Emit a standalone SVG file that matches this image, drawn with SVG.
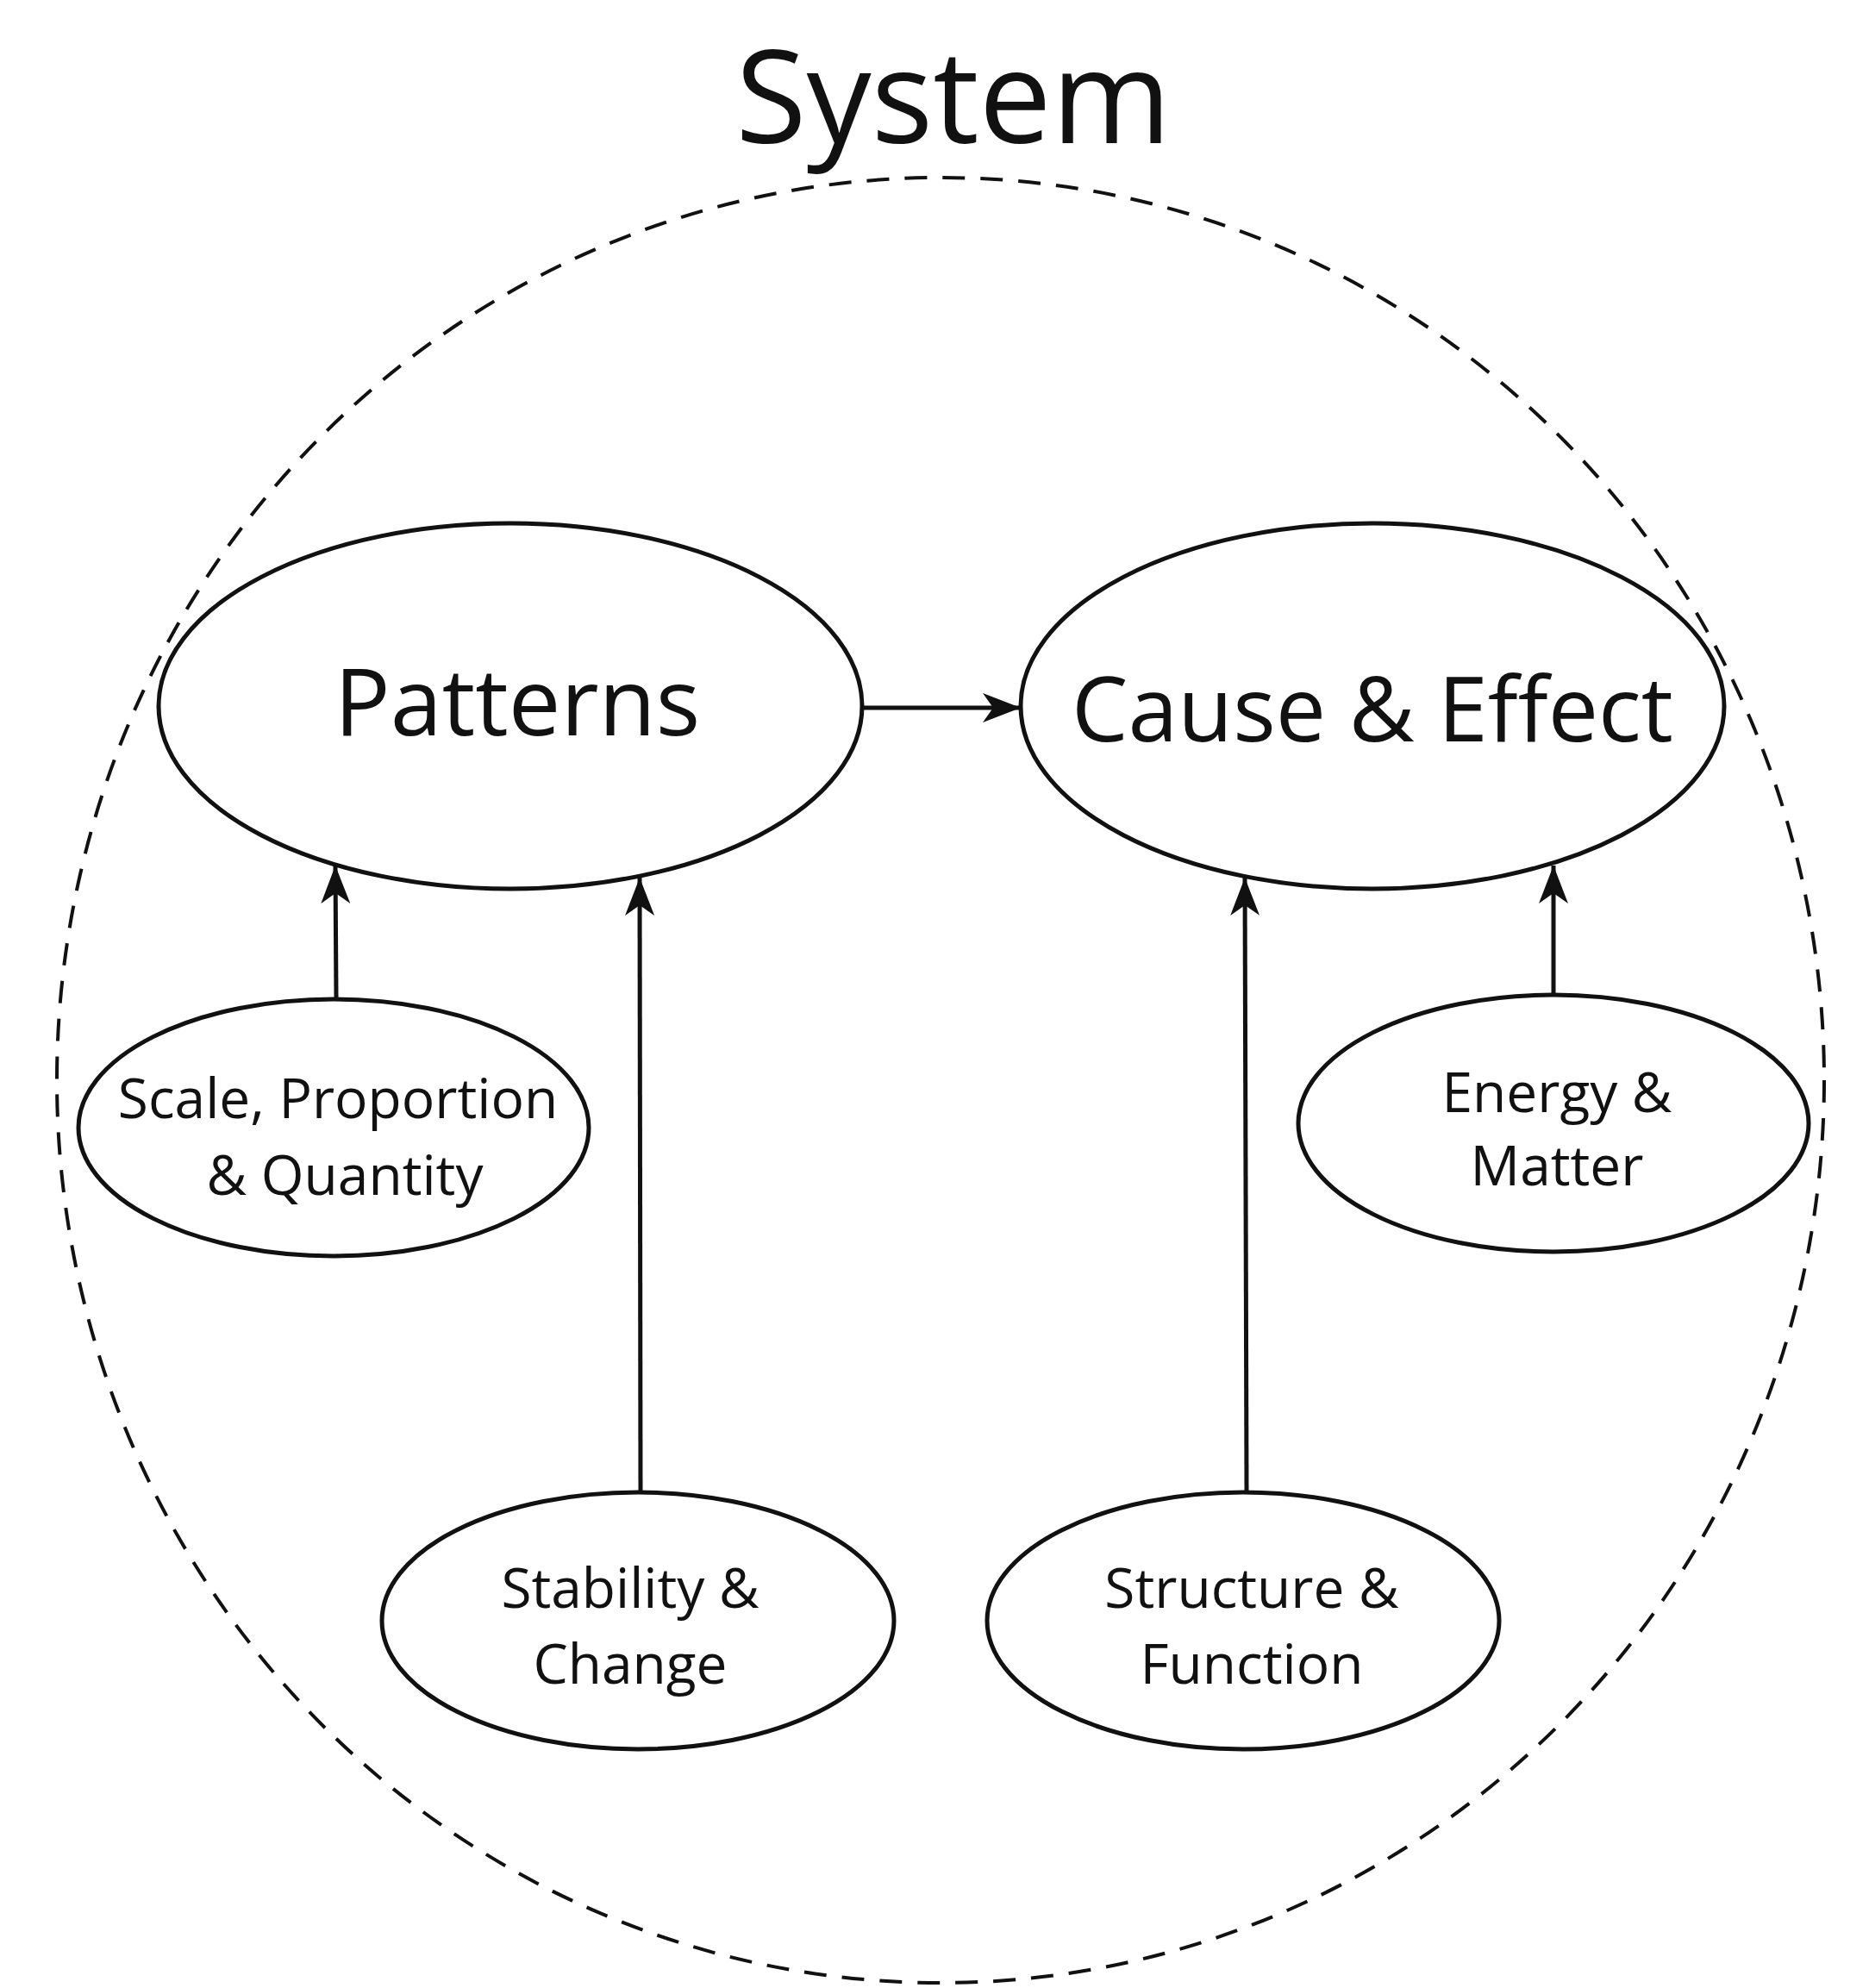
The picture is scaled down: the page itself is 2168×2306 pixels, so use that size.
<svg xmlns="http://www.w3.org/2000/svg" width="2168" height="2306" viewBox="0 0 2168 2306">
<style>
.n{fill:none;stroke:#111;stroke-width:5}
.t{font-family:"Open Sans","Noto Sans",sans-serif;fill:#111;text-anchor:middle;font-weight:500}
.c{stroke:#111;stroke-width:5;fill:none;marker-end:url(#a)}
</style>
<defs><marker id="a" viewBox="0 0 44 34" refX="44" refY="17" markerWidth="44" markerHeight="34" orient="auto" markerUnits="userSpaceOnUse"><path d="M0,0 L44,17 L0,34 L12,17 z" fill="#111"/></marker></defs>
<rect width="2168" height="2306" fill="#fff"/>
<g id="system">
<ellipse cx="1091" cy="1253" rx="1025" ry="1047" fill="none" stroke="#111" stroke-width="4" stroke-dasharray="26 18"/>
<text class="t" x="1106" y="166" font-size="150">System</text>
</g>
<g id="patterns"><ellipse class="n" cx="592" cy="819" rx="408" ry="212"/><text class="t" x="600" y="853" font-size="108">Patterns</text></g>
<g id="cause"><ellipse class="n" cx="1592" cy="819" rx="408" ry="212"/><text class="t" x="1592" y="860" font-size="104">Cause &amp; Effect</text></g>
<g id="scale"><ellipse class="n" cx="387" cy="1308" rx="296" ry="149"/><text class="t" font-size="64"><tspan x="392" y="1297">Scale, Proportion</tspan><tspan x="400" y="1386">&amp; Quantity</tspan></text></g>
<g id="stability"><ellipse class="n" cx="740" cy="1880" rx="297" ry="149"/><text class="t" font-size="64"><tspan x="731" y="1865">Stability &amp;</tspan><tspan x="731" y="1953">Change</tspan></text></g>
<g id="structure"><ellipse class="n" cx="1442" cy="1880" rx="297" ry="149"/><text class="t" font-size="64"><tspan x="1452" y="1865">Structure &amp;</tspan><tspan x="1452" y="1953">Function</tspan></text></g>
<g id="energy"><ellipse class="n" cx="1802" cy="1303" rx="296" ry="149"/><text class="t" font-size="64"><tspan x="1806" y="1290">Energy &amp;</tspan><tspan x="1806" y="1375">Matter</tspan></text></g>
<g id="connectors">
<line class="c" x1="1002" y1="821" x2="1184" y2="821"/>
<line class="c" x1="390" y1="1158" x2="389" y2="1004"/>
<line class="c" x1="743" y1="1731" x2="742" y2="1018"/>
<line class="c" x1="1446" y1="1731" x2="1444" y2="1018"/>
<line class="c" x1="1802" y1="1155" x2="1802" y2="1004"/>
</g>
</svg>
